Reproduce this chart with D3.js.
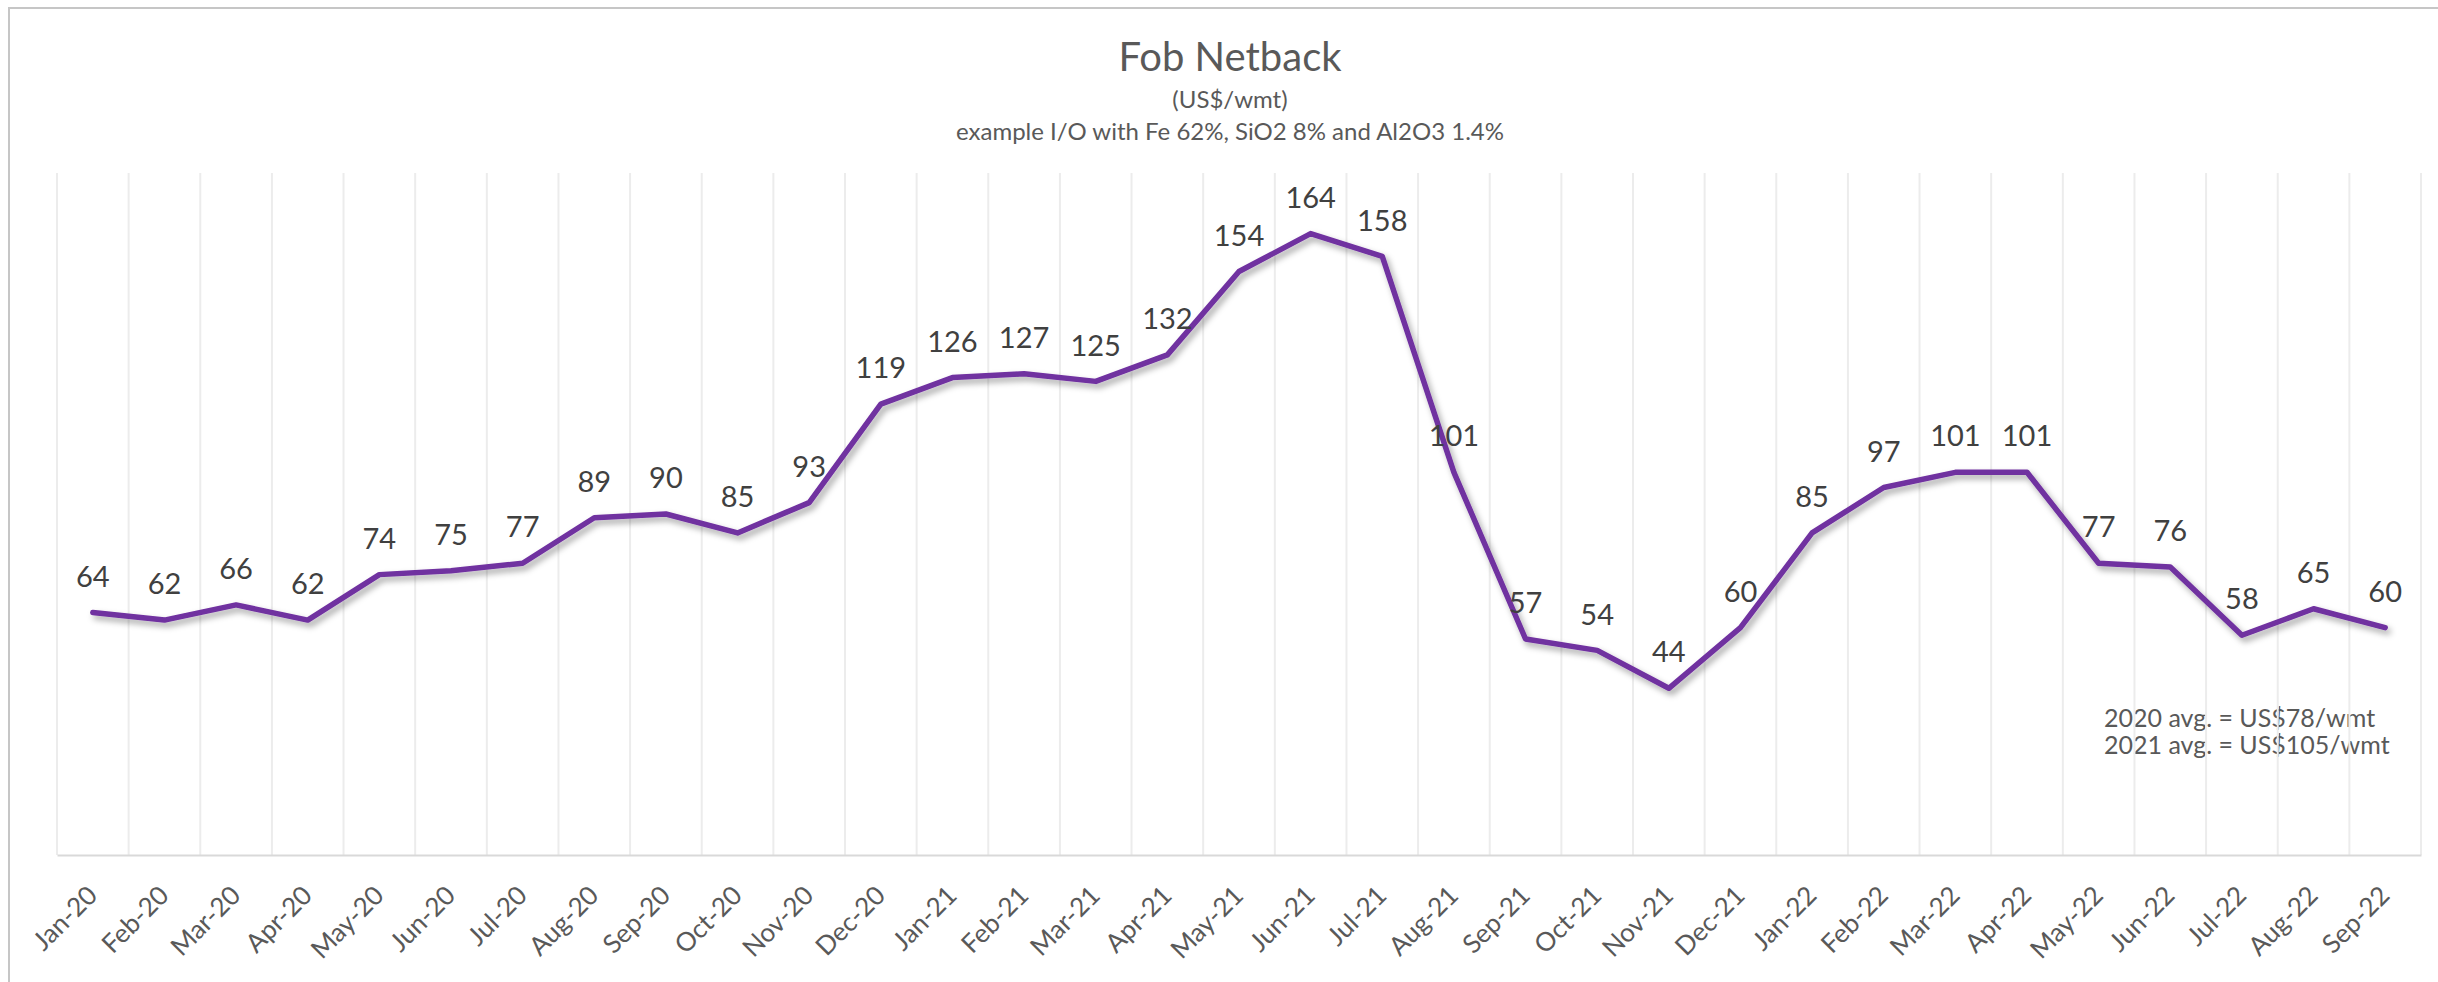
<!DOCTYPE html>
<html>
<head>
<meta charset="utf-8">
<script src="https://cdn.jsdelivr.net/npm/d3@7"></script>
<style>
  body { margin: 0; background: #fff; }
  text { font-family: Lato, "Noto Sans", sans-serif; }
</style>
</head>
<body>
<div id="chart"></div>
<script>
// Fob netback line chart
const months = ["Jan-20","Feb-20","Mar-20","Apr-20","May-20","Jun-20","Jul-20","Aug-20","Sep-20","Oct-20","Nov-20","Dec-20",
  "Jan-21","Feb-21","Mar-21","Apr-21","May-21","Jun-21","Jul-21","Aug-21","Sep-21","Oct-21","Nov-21","Dec-21",
  "Jan-22","Feb-22","Mar-22","Apr-22","May-22","Jun-22","Jul-22","Aug-22","Sep-22"];
const netback = [64,62,66,62,74,75,77,89,90,85,93,119,
  126,127,125,132,154,164,158,101,57,54,44,60,
  85,97,101,101,77,76,58,65,60];
const titleLines = ["Fob Netback", "(US$/wmt)", "example I/O with Fe 62%, SiO2 8% and Al2O3 1.4%"];
const noteLines = ["2020 avg. = US$78/wmt", "2021 avg. = US$105/wmt"];

const width = 2438, height = 982;
const margin = { top: 173, right: 17, bottom: 127, left: 57 };

const svg = d3.select("#chart")
  .append("svg")
  .attr("width", width)
  .attr("height", height);

const defs = svg.append("defs");
const shadow = defs.append("filter")
  .attr("id", "shadow")
  .attr("x", "-5%").attr("y", "-5%")
  .attr("width", "110%").attr("height", "120%");
shadow.append("feDropShadow")
  .attr("dx", 3).attr("dy", 4)
  .attr("stdDeviation", 3)
  .attr("flood-color", "#000")
  .attr("flood-opacity", 0.35);

// outer frame
svg.append("rect")
  .attr("x", 9).attr("y", 8)
  .attr("width", width).attr("height", height)
  .attr("fill", "#fff")
  .attr("stroke", "#c6c6c6")
  .attr("stroke-width", 2);

const x = d3.scaleBand()
  .domain(months)
  .range([margin.left, width - margin.right]);

const y = d3.scaleLinear()
  .domain([0, 180])
  .range([height - margin.bottom, margin.top]);

// titles
const titleSizes = [40, 24, 24];
const titleY = [57, 100, 132];
svg.selectAll(".title")
  .data(titleLines)
  .enter()
  .append("text")
  .attr("class", "title")
  .attr("x", 1230)
  .attr("y", (d, i) => titleY[i])
  .attr("dy", "0.35em")
  .attr("text-anchor", "middle")
  .attr("fill", "#595959")
  .attr("font-size", (d, i) => titleSizes[i])
  .text(d => d);

// note (drawn before gridlines, they run over it)
svg.selectAll(".note")
  .data(noteLines)
  .enter()
  .append("text")
  .attr("class", "note")
  .attr("x", 2104)
  .attr("y", (d, i) => 718 + i * 27)
  .attr("dy", "0.35em")
  .attr("fill", "#595959")
  .attr("font-size", 25)
  .text(d => d);

// vertical gridlines at band edges
const edges = months.map(m => x(m)).concat([x.range()[1]]);
svg.selectAll(".grid")
  .data(edges)
  .enter()
  .append("line")
  .attr("class", "grid")
  .attr("x1", d => d).attr("x2", d => d)
  .attr("y1", y(180)).attr("y2", y(0))
  .attr("stroke", "#ececec")
  .attr("stroke-width", 2);

// x axis
const xAxis = svg.append("g")
  .attr("transform", `translate(0, ${y(0)})`)
  .call(d3.axisBottom(x).tickSize(0).tickPadding(0));
xAxis.select(".domain")
  .attr("stroke", "#d9d9d9")
  .attr("stroke-width", 2);
xAxis.selectAll("text")
  .attr("font-family", "Lato, 'Noto Sans', sans-serif")
  .attr("font-size", 26)
  .attr("fill", "#595959")
  .attr("text-anchor", "end")
  .attr("dy", null)
  .attr("y", 0)
  .attr("transform", "translate(6, 42) rotate(-45)");

// line
const line = d3.line()
  .x((d, i) => x(months[i]) + x.bandwidth() / 2)
  .y(d => y(d));

svg.append("path")
  .datum(netback)
  .attr("d", line)
  .attr("fill", "none")
  .attr("stroke", "#7030A0")
  .attr("stroke-width", 5.5)
  .attr("stroke-linejoin", "round")
  .attr("stroke-linecap", "round")
  .attr("filter", "url(#shadow)");

// data labels
svg.selectAll(".label")
  .data(netback)
  .enter()
  .append("text")
  .attr("class", "label")
  .attr("x", (d, i) => x(months[i]) + x.bandwidth() / 2)
  .attr("y", d => y(d) - 36)
  .attr("dy", "0.35em")
  .attr("text-anchor", "middle")
  .attr("fill", "#404040")
  .attr("font-size", 29)
  .text(d => d);
</script>
</body>
</html>
